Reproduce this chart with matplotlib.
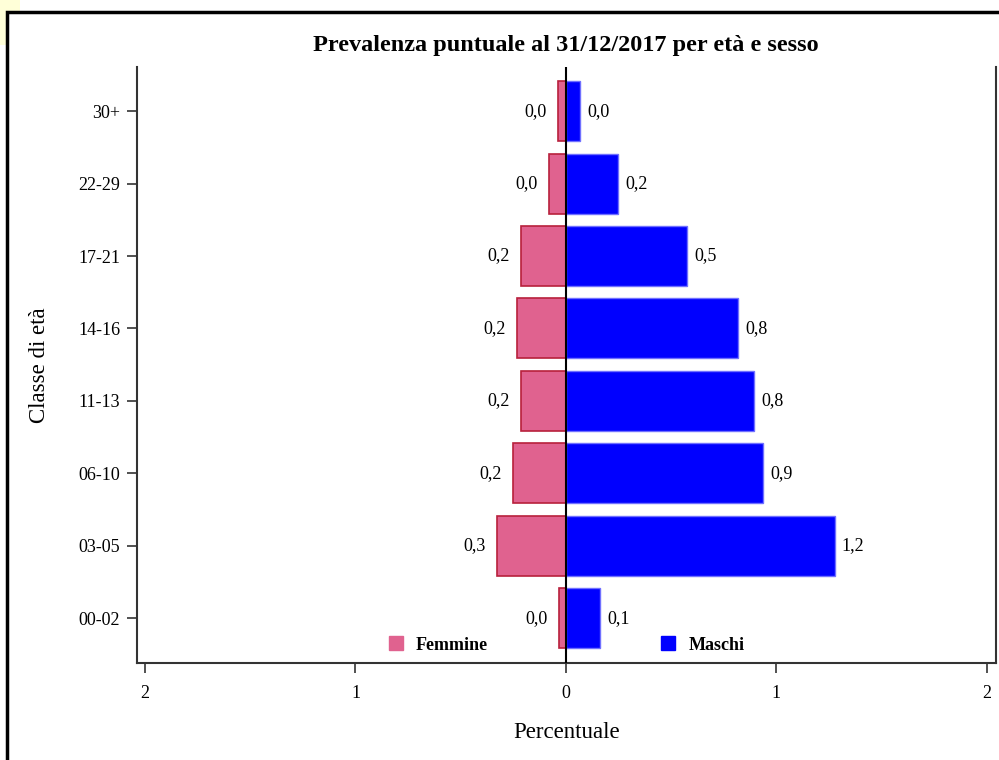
import numpy as np
import matplotlib
matplotlib.use('Agg')
import matplotlib.pyplot as plt
from matplotlib.patches import Rectangle
from matplotlib.lines import Line2D

plt.rcParams['font.family'] = ['Liberation Serif', 'DejaVu Serif']

# Age classes, bottom to top
classi = ['00-02', '03-05', '06-10', '11-13', '14-16', '17-21', '22-29', '30+']

# Percentages (femmine drawn to the left)
femmine = [0.033, 0.329, 0.252, 0.214, 0.233, 0.214, 0.081, 0.038]
maschi = [0.162, 1.276, 0.938, 0.895, 0.819, 0.577, 0.248, 0.067]

# Value labels as printed on the chart
lab_femmine = ['0,0', '0,3', '0,2', '0,2', '0,2', '0,2', '0,0', '0,0']
lab_maschi = ['0,1', '1,2', '0,9', '0,8', '0,8', '0,5', '0,2', '0,0']

x_ticks = [-2, -1, 0, 1, 2]

col_f = '#E0628F'
edge_f = '#B8203C'
col_m = '#0000FF'
edge_m = '#7070FF'

fig = plt.figure(figsize=(9.99, 7.6), dpi=100)
W, H = 999, 760

# yellow corner and the black frame round the picture (behind the axes)
fig.patches.append(Rectangle((0, 1 - 45 / H), 20 / W, 45 / H, transform=fig.transFigure,
                             facecolor='#FFFFD8', edgecolor='none', zorder=-2))
fig.patches.append(Rectangle((6.5 / W, -0.05), 1.1, 1 - 11.5 / H + 0.05, transform=fig.transFigure,
                             facecolor='white', edgecolor='black', linewidth=2.5, zorder=-1))

ax = fig.add_axes([137 / W, 1 - 663 / H, (996 - 137) / W, (663 - 67) / H])
ax.set_facecolor('none')

y = np.arange(len(classi))
neg_f = [-v for v in femmine]
ax.barh(y, neg_f, height=0.83, color=col_f, edgecolor=edge_f, linewidth=1.2, zorder=2)
ax.barh(y, maschi, height=0.83, color=col_m, edgecolor=edge_m, linewidth=1.0, zorder=2)
ax.axvline(0, color='black', linewidth=1.5, zorder=3)

for yi, vf, vm, lf, lm in zip(y, neg_f, maschi, lab_femmine, lab_maschi):
    ax.annotate(lf, (vf, yi), xytext=(-8, 0), textcoords='offset points',
                ha='right', va='center', fontsize=13)
    ax.annotate(lm, (vm, yi), xytext=(5, 0), textcoords='offset points',
                ha='left', va='center', fontsize=13)

ax.set_xlim(-2.038, 2.043)
ax.set_ylim(-0.62, 7.61)
ax.set_xticks(x_ticks)
ax.set_xticklabels([str(abs(t)) for t in x_ticks], fontsize=13)
ax.set_yticks(y)
ax.set_yticklabels(classi, fontsize=13)
ax.tick_params(axis='both', length=7, width=1.2, direction='out', color='#333333')
ax.tick_params(axis='x', pad=9)
ax.tick_params(axis='y', pad=5)

for s in ['left', 'bottom', 'right']:
    ax.spines[s].set_linewidth(1.5)
    ax.spines[s].set_color('#333333')
ax.spines['top'].set_visible(False)

ax.set_xlabel('Percentuale', fontsize=16.5, labelpad=14)
ax.set_ylabel('Classe di età', fontsize=16.5, labelpad=20)
fig.text(566 / W, 1 - 45 / H, 'Prevalenza puntuale al 31/12/2017 per età e sesso',
         fontsize=17.5, fontweight='bold', ha='center', va='center')

handles = [Line2D([], [], marker='s', linestyle='none', markersize=10, color=col_f),
           Line2D([], [], marker='s', linestyle='none', markersize=10, color=col_m)]
ax.legend(handles, ['Femmine', 'Maschi'], ncol=2, loc='center',
          bbox_to_anchor=(0.5, 0.03), frameon=False, handlelength=0.8,
          handletextpad=0.7, columnspacing=9.6,
          prop={'size': 13, 'weight': 'bold'})

fig.savefig('out.png', dpi=100)
